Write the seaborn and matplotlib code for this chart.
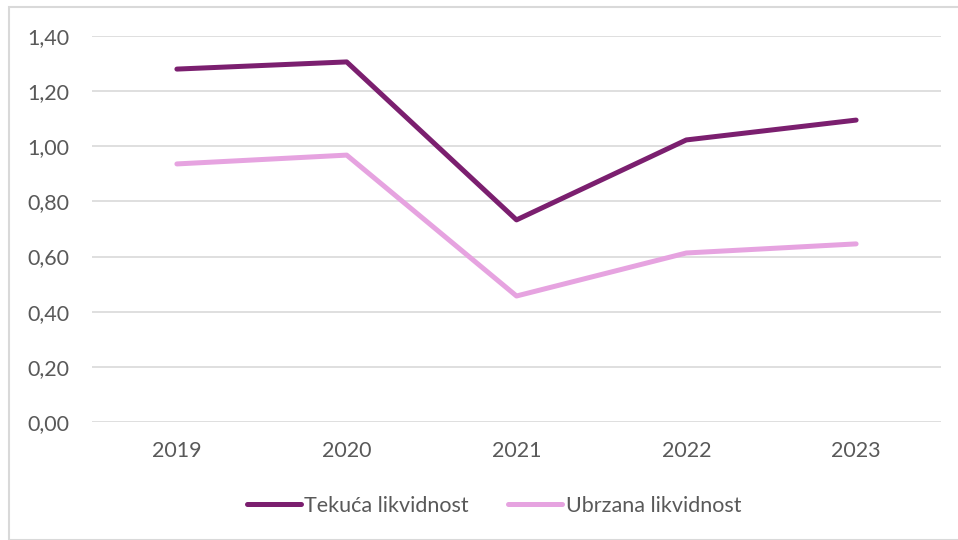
import matplotlib
matplotlib.use("Agg")
import matplotlib.pyplot as plt
import seaborn as sns
import pandas as pd
from matplotlib.patches import Rectangle

years = ["2019", "2020", "2021", "2022", "2023"]
tekuca = [1.28, 1.306, 0.733, 1.023, 1.095]
ubrzana = [0.936, 0.968, 0.457, 0.613, 0.646]
series_names = ["Tekuća likvidnost", "Ubrzana likvidnost"]
yticks = [0.0, 0.2, 0.4, 0.6, 0.8, 1.0, 1.2, 1.4]

df = pd.DataFrame({
    "Godina": years * 2,
    "Vrijednost": tekuca + ubrzana,
    "Serija": [series_names[0]] * len(years) + [series_names[1]] * len(years),
})

sns.set_theme(style="white")
plt.rcParams['font.family'] = ['Lato', 'DejaVu Sans']

fig = plt.figure(figsize=(9.58, 5.4), dpi=100)
ax = fig.add_axes([92/958, 1-422/540, (941-92)/958, (422-36)/540])

palette = {series_names[0]: "#7B1F6F", series_names[1]: "#E6A3E0"}
sns.lineplot(data=df, x="Godina", y="Vrijednost", hue="Serija", palette=palette,
             linewidth=3.6, ax=ax, sort=False, legend=True)

ax.set_xlim(-0.5, 4.5)
ax.set_ylim(0, 1.4)
ax.set_yticks(yticks)
ax.set_yticklabels([f"{v:.2f}".replace(".", ",") for v in yticks])
ax.grid(axis="y", color="#D9D9D9", linewidth=1.2)
ax.set_axisbelow(True)
for s in ax.spines.values():
    s.set_visible(False)
ax.set_xlabel("")
ax.set_ylabel("")
ax.tick_params(axis="both", length=0, labelsize=15.5, colors="#595959")
ax.tick_params(axis="y", pad=16)
ax.tick_params(axis="x", pad=14)

for ln in ax.get_lines():
    ln.set_solid_capstyle("round")

leg = ax.legend(loc="center", bbox_to_anchor=(494/958, 1-506/540),
                bbox_transform=fig.transFigure, ncol=2, frameon=False,
                fontsize=15.5, handlelength=2.5, handletextpad=0.15,
                columnspacing=1.85, labelcolor="#595959")
for h in leg.get_lines():
    h.set_linewidth(3.6)
    h.set_solid_capstyle("round")

fig.patches.append(Rectangle((9/958, 0), 1, 1-7/540, transform=fig.transFigure,
                             fill=False, edgecolor="#D9D9D9", linewidth=1.5))

fig.savefig("out.png", dpi=100)
